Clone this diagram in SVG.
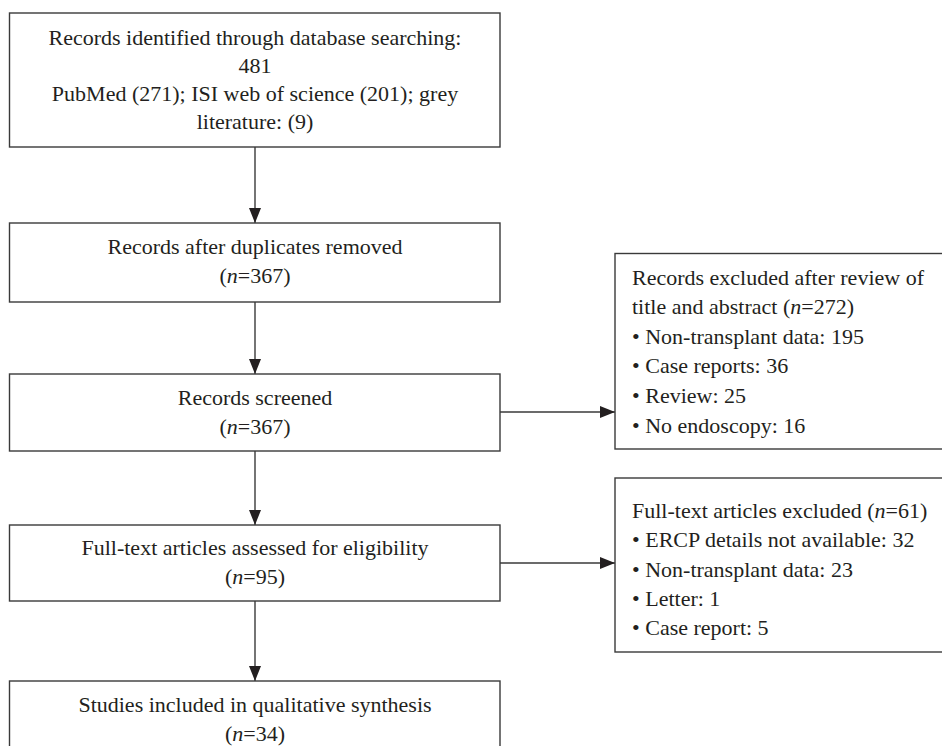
<svg xmlns="http://www.w3.org/2000/svg" width="942" height="746" viewBox="0 0 942 746">
<defs>
<style>
.box{fill:#fff;stroke:#3a3a3a;stroke-width:1.4}
.t{font-family:"Liberation Serif","Times New Roman",serif;font-size:22px;fill:#231f20}
.c{text-anchor:middle}
.i{font-style:italic}
.ln{stroke:#3a3a3a;stroke-width:1.4;fill:none}
</style>
<marker id="ah" markerUnits="userSpaceOnUse" markerWidth="16" markerHeight="12" refX="15" refY="6" orient="auto">
<path d="M0,0 L15,6 L0,12 Z" fill="#231f20"/>
</marker>
</defs>
<rect width="942" height="746" fill="#fff"/>
<g id="connectors">
<line class="ln" x1="255" y1="147" x2="255" y2="223" marker-end="url(#ah)"/>
<line class="ln" x1="255" y1="302" x2="255" y2="374" marker-end="url(#ah)"/>
<line class="ln" x1="255" y1="451" x2="255" y2="525" marker-end="url(#ah)"/>
<line class="ln" x1="255" y1="601" x2="255" y2="681" marker-end="url(#ah)"/>
<line class="ln" x1="500" y1="412" x2="615" y2="412" marker-end="url(#ah)"/>
<line class="ln" x1="500" y1="563" x2="615" y2="563" marker-end="url(#ah)"/>
</g>
<g id="n1">
<rect class="box" x="9.5" y="13" width="490.5" height="134"/>
<text class="t c" x="255" y="45">Records identified through database searching:</text>
<text class="t c" x="255" y="73">481</text>
<text class="t c" x="255" y="101">PubMed (271); ISI web of science (201); grey</text>
<text class="t c" x="255" y="129">literature: (9)</text>
</g>
<g id="n2">
<rect class="box" x="9.5" y="223" width="490.5" height="79"/>
<text class="t c" x="255" y="254">Records after duplicates removed</text>
<text class="t c" x="255" y="283">(<tspan class="i">n</tspan>=367)</text>
</g>
<g id="n3">
<rect class="box" x="9.5" y="374" width="490.5" height="77"/>
<text class="t c" x="255" y="405">Records screened</text>
<text class="t c" x="255" y="434">(<tspan class="i">n</tspan>=367)</text>
</g>
<g id="n4">
<rect class="box" x="9.5" y="525" width="490.5" height="76"/>
<text class="t c" x="255" y="555">Full-text articles assessed for eligibility</text>
<text class="t c" x="255" y="584">(<tspan class="i">n</tspan>=95)</text>
</g>
<g id="n5">
<rect class="box" x="9.5" y="681" width="490.5" height="80"/>
<text class="t c" x="255" y="712">Studies included in qualitative synthesis</text>
<text class="t c" x="255" y="741">(<tspan class="i">n</tspan>=34)</text>
</g>
<g id="n6">
<rect class="box" x="615" y="253.5" width="340" height="195.5"/>
<text class="t" x="632" y="285">Records excluded after review of</text>
<text class="t" x="632" y="314">title and abstract (<tspan class="i">n</tspan>=272)</text>
<text class="t" x="632" y="344">• Non-transplant data: 195</text>
<text class="t" x="632" y="373">• Case reports: 36</text>
<text class="t" x="632" y="403">• Review: 25</text>
<text class="t" x="632" y="433">• No endoscopy: 16</text>
</g>
<g id="n7">
<rect class="box" x="615" y="478" width="340" height="174"/>
<text class="t" x="632" y="518">Full-text articles excluded (<tspan class="i">n</tspan>=61)</text>
<text class="t" x="632" y="547">• ERCP details not available: 32</text>
<text class="t" x="632" y="577">• Non-transplant data: 23</text>
<text class="t" x="632" y="606">• Letter: 1</text>
<text class="t" x="632" y="635">• Case report: 5</text>
</g>
</svg>
